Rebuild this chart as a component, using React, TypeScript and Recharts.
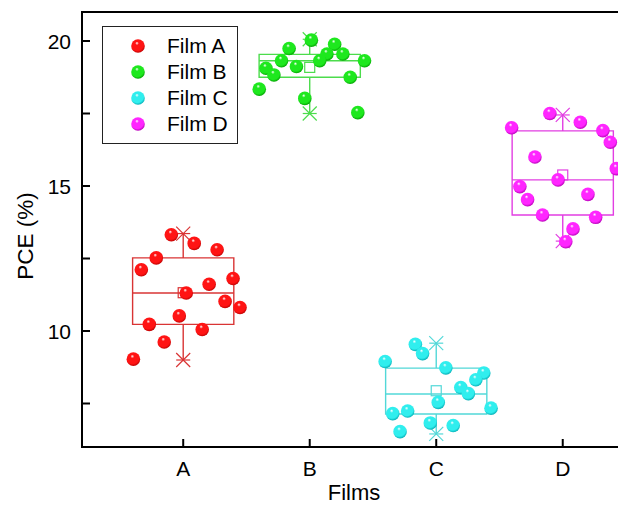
import React from "react";
import {
  ComposedChart,
  Scatter,
  XAxis,
  YAxis,
  ReferenceArea,
  ReferenceLine,
  ReferenceDot,
  Legend,
} from "recharts";

const FONT = '"Liberation Sans", Arial, sans-serif';

const categories = ["A", "B", "C", "D"];
const filmNames = ["Film A", "Film B", "Film C", "Film D"];
const yTicks = [7.5, 10, 12.5, 15, 17.5, 20];

// horizontal scatter of each point around its category (x units)
const filmAOffset = [-0.094, 0.087, 0.268, -0.213, -0.331, 0.394, 0.205, 0.024, 0.331, 0.449, -0.031, -0.268, 0.15, -0.15, -0.394];
const filmAPce = [13.32, 13.02, 12.8, 12.52, 12.11, 11.81, 11.61, 11.31, 11.02, 10.81, 10.52, 10.23, 10.05, 9.62, 9.03];

const filmBOffset = [0.013, 0.197, -0.163, 0.136, 0.262, 0.433, -0.223, 0.079, -0.105, -0.346, -0.283, 0.32, -0.399, -0.039, 0.38];
const filmBPce = [20.03, 19.89, 19.74, 19.55, 19.55, 19.32, 19.32, 19.32, 19.12, 19.06, 18.83, 18.75, 18.34, 18.02, 17.53];

const filmCOffset = [-0.165, -0.108, -0.404, 0.076, 0.376, 0.313, 0.194, 0.254, 0.016, 0.433, -0.226, -0.344, -0.047, 0.134, -0.286];
const filmCPce = [9.54, 9.22, 8.95, 8.73, 8.55, 8.32, 8.05, 7.84, 7.54, 7.34, 7.24, 7.15, 6.83, 6.74, 6.53];

const filmDOffset = [-0.102, 0.139, -0.404, 0.317, 0.376, -0.22, 0.423, -0.037, -0.339, 0.199, -0.278, -0.16, 0.26, 0.081, 0.024];
const filmDPce = [17.5, 17.2, 17.01, 16.91, 16.51, 16.0, 15.6, 15.21, 14.98, 14.71, 14.53, 14.0, 13.92, 13.52, 13.08];

// box statistics per film
const boxMin = [9.0, 17.5, 6.45, 13.1];
const boxQ1 = [10.23, 18.75, 7.14, 14.0];
const boxMedian = [11.31, 19.32, 7.83, 15.21];
const boxQ3 = [12.52, 19.54, 8.72, 16.9];
const boxMax = [13.36, 20.06, 9.58, 17.45];
const boxMean = [11.32, 19.09, 7.94, 15.38];

const offsets = [filmAOffset, filmBOffset, filmCOffset, filmDOffset];
const pces = [filmAPce, filmBPce, filmCPce, filmDPce];

const COLORS = [
  { base: "#ff1414", dark: "#b80000", line: "#d93434" },
  { base: "#1ee81e", dark: "#009c00", line: "#4cdc4c" },
  { base: "#30eeee", dark: "#00a8b0", line: "#52d8d8" },
  { base: "#ff26ff", dark: "#b000b0", line: "#e23ee2" },
];

const BOX_HALF = 0.4;
const X_DOMAIN: [number, number] = [0.2, 4.5];
const Y_DOMAIN: [number, number] = [6, 21];

function Sphere({ cx, cy, idx }: { cx: number; cy: number; idx: number }) {
  const id = `sphere-${idx}`;
  const c = COLORS[idx];
  return (
    <g>
      <defs>
        <radialGradient id={id} cx="45%" cy="40%" r="62%" fx="42%" fy="28%">
          <stop offset="0%" stopColor="#ffffff" />
          <stop offset="22%" stopColor={c.base} />
          <stop offset="75%" stopColor={c.base} />
          <stop offset="100%" stopColor={c.dark} />
        </radialGradient>
      </defs>
      <circle cx={cx} cy={cy} r={6.8} fill={`url(#${id})`} />
    </g>
  );
}

function MeanSquare({ cx, cy, color }: any) {
  return <rect x={cx - 5} y={cy - 5} width={10} height={10} fill="none" stroke={color} strokeWidth={1.2} />;
}

function Cross({ cx, cy, color }: any) {
  const s = 7;
  return (
    <g stroke={color} strokeWidth={1.2}>
      <line x1={cx - s} y1={cy - s} x2={cx + s} y2={cy + s} />
      <line x1={cx - s} y1={cy + s} x2={cx + s} y2={cy - s} />
      <line x1={cx - s} y1={cy} x2={cx + s} y2={cy} />
    </g>
  );
}

function YTick(props: any) {
  const { x, y, payload } = props;
  const major = Number.isInteger(payload.value);
  return (
    <g>
      <line x1={x} x2={x + 8} y1={y} y2={y} stroke="#000" strokeWidth={2} />
      {major && (
        <text x={x - 11} y={y + 7.5} textAnchor="end" fontSize={21} fontFamily={FONT} fill="#000">
          {payload.value}
        </text>
      )}
    </g>
  );
}

function XTick(props: any) {
  const { x, y, payload } = props;
  return (
    <g>
      <line x1={x} x2={x} y1={y} y2={y - 8} stroke="#000" strokeWidth={2} />
      <text x={x} y={y + 29} textAnchor="middle" fontSize={21} fontFamily={FONT} fill="#000">
        {categories[payload.value - 1]}
      </text>
    </g>
  );
}

function LegendBox() {
  return (
    <div
      style={{
        position: "relative",
        width: 134,
        height: 116,
        border: "1px solid #222",
        background: "#fff",
        fontFamily: FONT,
        fontSize: 21,
      }}
    >
      {filmNames.map((name, i) => (
        <div key={name} style={{ position: "absolute", left: 0, top: 6 + i * 26, height: 26, width: 134 }}>
          <svg width={50} height={26} style={{ position: "absolute", left: 10, top: 0 }}>
            <Sphere cx={25} cy={13} idx={i} />
          </svg>
          <span style={{ position: "absolute", left: 64, top: 1, lineHeight: "24px", color: "#000" }}>{name}</span>
        </div>
      ))}
    </div>
  );
}

export default function App() {
  const series = offsets.map((off, i) =>
    off.map((o, j) => ({ x: i + 1 + o, y: pces[i][j] }))
  );

  return (
    <div style={{ position: "absolute", left: 0, top: 0, width: 618, height: 506, overflow: "hidden", background: "#fff" }}>
      <ComposedChart width={640} height={506} margin={{ top: 12, right: 14, bottom: 0, left: 0 }}>
        <XAxis
          type="number"
          dataKey="x"
          domain={X_DOMAIN}
          ticks={[1, 2, 3, 4]}
          allowDataOverflow
          height={59}
          tickSize={0}
          tickMargin={0}
          tickLine={false}
          axisLine={{ stroke: "#000", strokeWidth: 2 }}
          tick={<XTick />}
          label={{
            value: "Films",
            content: (p: any) => (
              <text
                x={p.viewBox.x + p.viewBox.width / 2}
                y={500}
                textAnchor="middle"
                fontSize={22}
                fontFamily={FONT}
                fill="#000"
              >
                Films
              </text>
            ),
          }}
        />
        <YAxis
          type="number"
          dataKey="y"
          domain={Y_DOMAIN}
          ticks={yTicks}
          allowDataOverflow
          width={82}
          tickSize={0}
          tickMargin={0}
          tickLine={false}
          axisLine={{ stroke: "#000", strokeWidth: 2 }}
          tick={<YTick />}
          label={{
            value: "PCE (%)",
            content: () => (
              <text
                x={33}
                y={236}
                transform="rotate(-90 33 236)"
                textAnchor="middle"
                fontSize={22.5}
                fontFamily={FONT}
                fill="#000"
              >
                PCE (%)
              </text>
            ),
          }}
        />
        <ReferenceArea
          x1={X_DOMAIN[0]}
          x2={X_DOMAIN[1]}
          y1={Y_DOMAIN[0]}
          y2={Y_DOMAIN[1]}
          fill="none"
          stroke="#000"
          strokeWidth={2}
        />
        {categories.map((_, i) => {
          const c = COLORS[i].line;
          const cx = i + 1;
          return (
            <React.Fragment key={`box-${i}`}>
              <ReferenceArea
                x1={cx - BOX_HALF}
                x2={cx + BOX_HALF}
                y1={boxQ1[i]}
                y2={boxQ3[i]}
                fill="none"
                stroke={c}
                strokeWidth={1.4}
              />
              <ReferenceLine
                segment={[{ x: cx - BOX_HALF, y: boxMedian[i] }, { x: cx + BOX_HALF, y: boxMedian[i] }]}
                stroke={c}
                strokeWidth={1.4}
              />
              <ReferenceLine
                segment={[{ x: cx, y: boxQ3[i] }, { x: cx, y: boxMax[i] }]}
                stroke={c}
                strokeWidth={1.4}
              />
              <ReferenceLine
                segment={[{ x: cx, y: boxMin[i] }, { x: cx, y: boxQ1[i] }]}
                stroke={c}
                strokeWidth={1.4}
              />
              <ReferenceDot x={cx} y={boxMean[i]} shape={(p: any) => <MeanSquare cx={p.cx} cy={p.cy} color={c} />} />
              <ReferenceDot x={cx} y={boxMax[i]} shape={(p: any) => <Cross cx={p.cx} cy={p.cy} color={c} />} />
              <ReferenceDot x={cx} y={boxMin[i]} shape={(p: any) => <Cross cx={p.cx} cy={p.cy} color={c} />} />
            </React.Fragment>
          );
        })}
        {series.map((data, i) => (
          <Scatter
            key={filmNames[i]}
            name={filmNames[i]}
            data={data}
            isAnimationActive={false}
            shape={(p: any) => <Sphere cx={p.cx} cy={p.cy} idx={i} />}
          />
        ))}
        <Legend
          layout="vertical"
          align="center"
          verticalAlign="middle"
          wrapperStyle={{ left: 102, top: 26, width: "auto", height: "auto" }}
          content={() => <LegendBox />}
        />
      </ComposedChart>
    </div>
  );
}
